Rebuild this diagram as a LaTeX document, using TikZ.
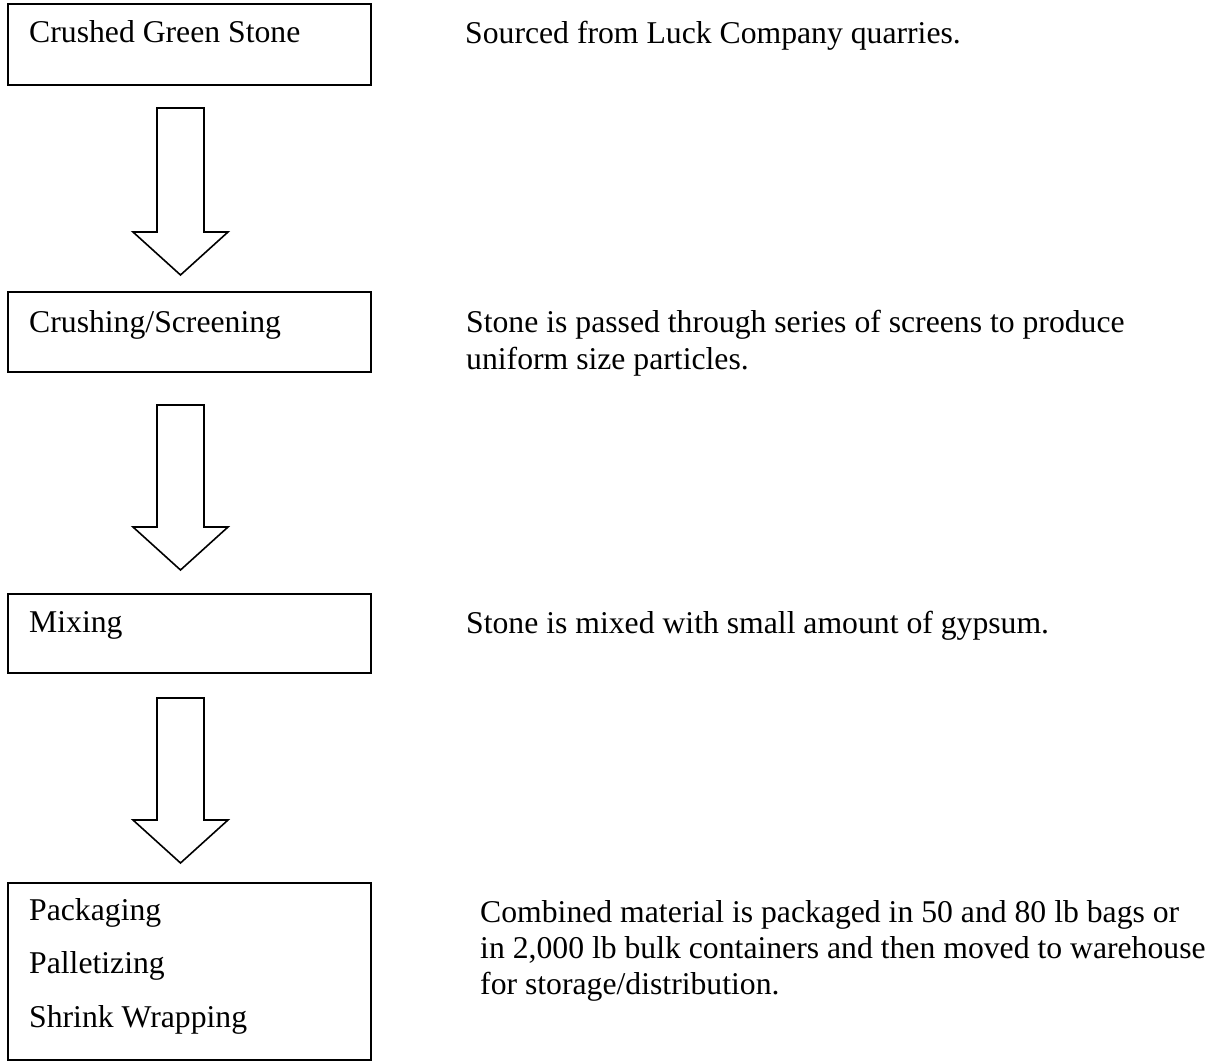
\documentclass[tikz,border=0pt]{standalone}
\usepackage{fontspec}
\setmainfont{Liberation Serif}
\usetikzlibrary{calc}
\tikzset{
  box/.style={draw, line width=1.6pt, rectangle, inner sep=0pt, anchor=north west},
  txt/.style={inner sep=0pt, anchor=base west, font=\fontsize{31.7}{36}\selectfont},
  blockarrow/.style={draw, line width=1.6pt, line join=miter, fill=white}
}
% #1 top coordinate name, #2 tip coordinate name
\newcommand{\blockarr}[2]{%
  \draw[blockarrow] ($(#1)+(-23.5,0)$) -- ($(#1)+(23.5,0)$) -- ($(#2)+(23.5,-43)$) -- ($(#2)+(47.5,-43)$) -- (#2) -- ($(#2)+(-47.5,-43)$) -- ($(#2)+(-23.5,-43)$) -- cycle;}
\begin{document}
\begin{tikzpicture}[x=1pt, y=-1pt]
\useasboundingbox (0,0) rectangle (1209,1064);
% boxes
\node[box, minimum width=363pt, minimum height=81pt] (b1) at (7,3) {};
\node[box, minimum width=363pt, minimum height=80pt] (b2) at (7,291) {};
\node[box, minimum width=363pt, minimum height=79pt] (b3) at (7,593) {};
\node[box, minimum width=363pt, minimum height=177pt] (b4) at (7,882) {};
% box texts
\node[txt] (t1) at (29,43) {Crushed Green Stone};
\node[txt] (t2) at (29,333) {Crushing/Screening};
\node[txt] (t3) at (29,632) {Mixing};
\node[txt] (t4a) at (29,920) {Packaging};
\node[txt] (t4b) at (29,973) {Palletizing};
\node[txt] (t4c) at (29,1027) {Shrink Wrapping};
% descriptions
\node[txt] (d1) at (465,44) {Sourced from Luck Company quarries.};
\node[txt] (d2a) at (466,333) {Stone is passed through series of screens to produce};
\node[txt] (d2b) at (466,369) {uniform size particles.};
\node[txt] (d3) at (466,633) {Stone is mixed with small amount of gypsum.};
\node[txt] (d4a) at (480,922) {Combined material is packaged in 50 and 80 lb bags or};
\node[txt] (d4b) at (480,958) {in 2,000 lb bulk containers and then moved to warehouse};
\node[txt] (d4c) at (480,994) {for storage/distribution.};
% arrow coordinates
\coordinate (a1) at (180.5,108);
\coordinate (p1) at (180.5,275);
\coordinate (a2) at (180.5,405);
\coordinate (p2) at (180.5,570);
\coordinate (a3) at (180.5,698);
\coordinate (p3) at (180.5,863);
\blockarr{a1}{p1}
\blockarr{a2}{p2}
\blockarr{a3}{p3}
\end{tikzpicture}
\end{document}
